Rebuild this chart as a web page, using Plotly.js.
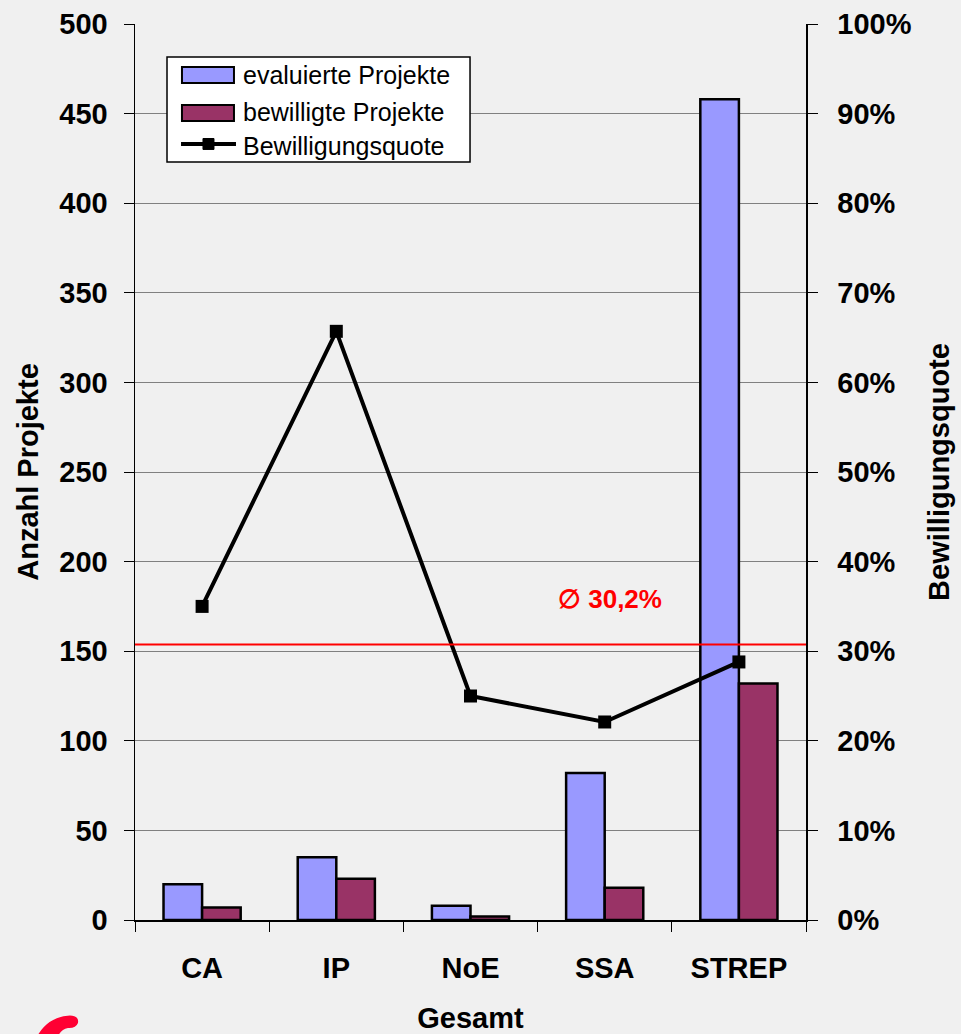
<!DOCTYPE html>
<html>
<head>
<meta charset="utf-8">
<script src="https://cdn.plot.ly/plotly-3.0.1.min.js"></script>
<style>
  html, body { margin: 0; padding: 0; background: #f0f0f0; }
  #chart { width: 961px; height: 1034px; }
</style>
</head>
<body>
<div id="chart"></div>
<script>
const categories = ["CA", "IP", "NoE", "SSA", "STREP"];
const seriesNames = ["evaluierte Projekte", "bewilligte Projekte", "Bewilligungsquote"];
const evaluierte = [20, 35, 8, 82, 458];
const bewilligte = [7, 23, 2, 18, 132];
const quote = [0.35, 0.657, 0.25, 0.221, 0.288];
const durchschnitt = 0.3075;
const durchschnittLabel = "\u2205 30,2%";
const leftTicks = [0, 50, 100, 150, 200, 250, 300, 350, 400, 450, 500];
const rightTicks = [0, 0.1, 0.2, 0.3, 0.4, 0.5, 0.6, 0.7, 0.8, 0.9, 1.0];
const rightTickLabels = ["0%", "10%", "20%", "30%", "40%", "50%", "60%", "70%", "80%", "90%", "100%"];

const font = "Liberation Sans, Arial, sans-serif";
const colEval = "#9999ff";
const colBew = "#993366";

const traces = [
  {
    type: "bar", name: seriesNames[0], x: categories, y: evaluierte,
    marker: { color: colEval, line: { color: "#000000", width: 2.5 } },
    yaxis: "y", showlegend: false
  },
  {
    type: "bar", name: seriesNames[1], x: categories, y: bewilligte,
    marker: { color: colBew, line: { color: "#000000", width: 2.5 } },
    yaxis: "y", showlegend: false
  },
  {
    type: "scatter", mode: "lines+markers", name: seriesNames[2],
    x: categories, y: quote, yaxis: "y2", showlegend: false,
    line: { color: "#000000", width: 4 },
    marker: { symbol: "square", size: 13, color: "#000000" }
  }
];

// legend drawn manually (paper coordinates)
const legendShapes = [
  { type: "rect", xref: "paper", yref: "paper", x0: 0.0477, x1: 0.4993, y0: 0.846, y1: 0.9632,
    fillcolor: "#ffffff", line: { color: "#000000", width: 1.5 }, layer: "above" },
  { type: "rect", xref: "paper", yref: "paper", x0: 0.0700, x1: 0.1475, y0: 0.9342, y1: 0.9520,
    fillcolor: colEval, line: { color: "#000000", width: 2 }, layer: "above" },
  { type: "rect", xref: "paper", yref: "paper", x0: 0.0700, x1: 0.1475, y0: 0.8917, y1: 0.9096,
    fillcolor: colBew, line: { color: "#000000", width: 2 }, layer: "above" },
  { type: "line", xref: "paper", yref: "paper", x0: 0.0686, x1: 0.1505, y0: 0.8661, y1: 0.8661,
    line: { color: "#000000", width: 4 }, layer: "above" },
  { type: "rect", xref: "paper", yref: "paper", x0: 0.1013, x1: 0.1177, y0: 0.8600, y1: 0.8722,
    fillcolor: "#000000", line: { color: "#000000", width: 1 }, layer: "above" }
];
const legendAnnotations = [0.9431, 0.9018, 0.8638].map((yy, i) => ({
  xref: "paper", yref: "paper", x: 0.158, y: yy, xanchor: "left", yanchor: "middle",
  text: seriesNames[i], showarrow: false,
  font: { family: font, size: 25, color: "#000000" }
}));

const layout = {
  width: 961, height: 1034,
  paper_bgcolor: "#f0f0f0", plot_bgcolor: "#f0f0f0",
  margin: { l: 135, r: 155, t: 24, b: 114 },
  font: { family: font, color: "#000000" },
  barmode: "group", bargap: 0.425, bargroupgap: 0,
  showlegend: false,
  xaxis: {
    type: "category",
    showline: true, linecolor: "#000000", linewidth: 1.5,
    ticks: "outside", ticklen: 10, tickcolor: "#000000", tickwidth: 1,
    tickson: "boundaries", ticklabelstandoff: 22,
    tickfont: { family: font, size: 29, color: "#000000", weight: "bold" },
    title: { text: "<b>Gesamt</b>", font: { family: font, size: 29, color: "#000000" }, standoff: 26 },
    showgrid: false
  },
  yaxis: {
    range: [0, 500], tickvals: leftTicks,
    showline: true, linecolor: "#000000", linewidth: 1.5,
    ticks: "outside", ticklen: 10, tickcolor: "#000000",
    ticklabelstandoff: 10,
    tickfont: { family: font, size: 29, color: "#000000", weight: "bold" },
    showgrid: true, gridcolor: "#808080", gridwidth: 1,
    zeroline: false,
    title: { text: "<b>Anzahl Projekte</b>", font: { family: font, size: 29, color: "#000000" }, standoff: 12 }
  },
  yaxis2: {
    range: [0, 1], overlaying: "y", side: "right",
    tickvals: rightTicks, ticktext: rightTickLabels,
    showline: true, linecolor: "#000000", linewidth: 1.5,
    ticks: "outside", ticklen: 10, tickcolor: "#000000",
    ticklabelstandoff: 14,
    tickfont: { family: font, size: 29, color: "#000000", weight: "bold" },
    showgrid: false, zeroline: false,
    title: { text: "<b>Bewilligungsquote</b>", font: { family: font, size: 29, color: "#000000" }, standoff: 18 }
  },
  shapes: [
    {
      type: "line", xref: "paper", yref: "y2", x0: 0, x1: 1,
      y0: durchschnitt, y1: durchschnitt,
      line: { color: "#ff0000", width: 2 }, layer: "above"
    },
    {
      type: "path", xref: "paper", yref: "paper",
      path: "M -0.146 -0.13 Q -0.13 -0.108 -0.097 -0.1065 Q -0.083 -0.107 -0.085 -0.115 Q -0.088 -0.121 -0.1 -0.1205 Q -0.11 -0.122 -0.115 -0.13 Z",
      fillcolor: "#ff0033", line: { width: 0 }, layer: "above"
    }
  ].concat(legendShapes),
  annotations: [
    {
      xref: "paper", yref: "y2", x: 0.708, y: 0.358, xanchor: "center", yanchor: "middle",
      text: "<b>" + durchschnittLabel + "</b>", showarrow: false,
      font: { family: font, size: 26, color: "#ff0000" }
    }
  ].concat(legendAnnotations)
};

Plotly.newPlot("chart", traces, layout, { displayModeBar: false, staticPlot: true });
</script>
</body>
</html>
